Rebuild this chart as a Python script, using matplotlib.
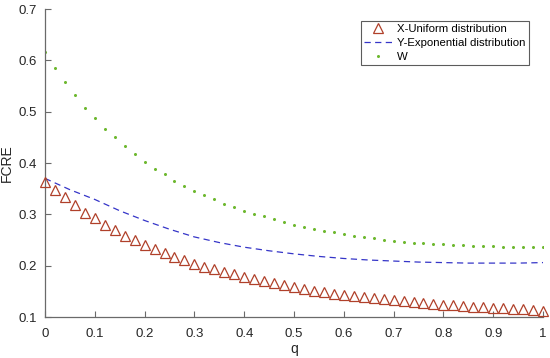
import numpy as np
import matplotlib
matplotlib.use("Agg")
import matplotlib.pyplot as plt

plt.rcParams['font.family'] = ['Liberation Sans', 'DejaVu Sans']

q = [round(0.02 * i, 2) for i in range(51)]

x_uniform = [0.363, 0.347, 0.334, 0.318, 0.303, 0.292, 0.279, 0.269, 0.258, 0.250,
             0.240, 0.232, 0.224, 0.217, 0.211, 0.204, 0.198, 0.193, 0.188, 0.183,
             0.178, 0.174, 0.170, 0.166, 0.162, 0.158, 0.155, 0.151, 0.148, 0.145,
             0.143, 0.141, 0.139, 0.137, 0.135, 0.133, 0.131, 0.129, 0.127, 0.125,
             0.124, 0.123, 0.122, 0.120, 0.119, 0.118, 0.117, 0.116, 0.115, 0.114,
             0.112]

q_exp = [0.0, 0.05, 0.1, 0.15, 0.2, 0.25, 0.3, 0.35, 0.4, 0.45, 0.5,
         0.55, 0.6, 0.65, 0.7, 0.75, 0.8, 0.85, 0.9, 0.95, 1.0]
y_exponential = [0.370, 0.348, 0.329, 0.307, 0.288, 0.271, 0.256, 0.245, 0.236, 0.229, 0.223,
                 0.218, 0.214, 0.211, 0.209, 0.207, 0.206, 0.205, 0.205, 0.205, 0.206]

w_values = [0.616, 0.585, 0.558, 0.532, 0.508, 0.487, 0.467, 0.450, 0.433, 0.418,
            0.402, 0.389, 0.378, 0.365, 0.355, 0.346, 0.337, 0.329, 0.321, 0.314,
            0.307, 0.301, 0.296, 0.290, 0.285, 0.280, 0.276, 0.272, 0.268, 0.265,
            0.261, 0.258, 0.256, 0.253, 0.250, 0.249, 0.247, 0.245, 0.244, 0.243,
            0.242, 0.240, 0.240, 0.239, 0.238, 0.238, 0.237, 0.237, 0.237, 0.237,
            0.237]

labels = ["X-Uniform distribution", "Y-Exponential distribution", "W"]

fig = plt.figure(figsize=(5.5, 3.58), dpi=100)
ax = fig.add_axes([45/550, 1-317/358, (543-45)/550, (317-9)/358])

ax.plot(q, x_uniform, linestyle='none', marker='^', markersize=6.5,
        markerfacecolor='none', markeredgecolor='#b0402a', markeredgewidth=0.9,
        label=labels[0], clip_on=False, zorder=3)
ax.plot(q_exp, y_exponential, linestyle=(0, (5, 3.5)), color='#3535c8', linewidth=0.9,
        label=labels[1], zorder=2)
ax.plot(q, w_values, linestyle='none', marker='o', markersize=2.2,
        markerfacecolor='#6db82e', markeredgecolor='#6db82e', markeredgewidth=0,
        label=labels[2], zorder=2)

ax.set_xlim(0, 1)
ax.set_ylim(0.1, 0.7)
ax.set_xticks(np.arange(0, 1.01, 0.1))
ax.set_xticklabels(['0', '0.1', '0.2', '0.3', '0.4', '0.5', '0.6', '0.7', '0.8', '0.9', '1'])
ax.set_yticks(np.arange(0.1, 0.71, 0.1))
ax.set_yticklabels(['0.1', '0.2', '0.3', '0.4', '0.5', '0.6', '0.7'])

for s in ['top', 'right']:
    ax.spines[s].set_visible(False)
for s in ['left', 'bottom']:
    ax.spines[s].set_color('#6a6a6a')
    ax.spines[s].set_linewidth(0.9)
ax.tick_params(direction='in', length=4, width=0.8, color='#6a6a6a',
               labelsize=9.5, labelcolor='#262626')
ax.tick_params(axis='x', pad=8)
ax.tick_params(axis='y', pad=6)

ax.set_xlabel('q', fontsize=10, color='#262626', labelpad=1)
ax.set_ylabel('FCRE', fontsize=10, color='#262626', labelpad=3)

leg = ax.legend(loc='upper right', bbox_to_anchor=(529/550, 1-20.7/358),
                bbox_transform=fig.transFigure, borderaxespad=0, fontsize=8.2,
                frameon=True, fancybox=False, handlelength=2.4, handletextpad=0.5,
                labelspacing=0.33, borderpad=0.3)
leg.get_frame().set_edgecolor('#333333')
leg.get_frame().set_linewidth(0.8)

fig.savefig('out.png', dpi=100)
